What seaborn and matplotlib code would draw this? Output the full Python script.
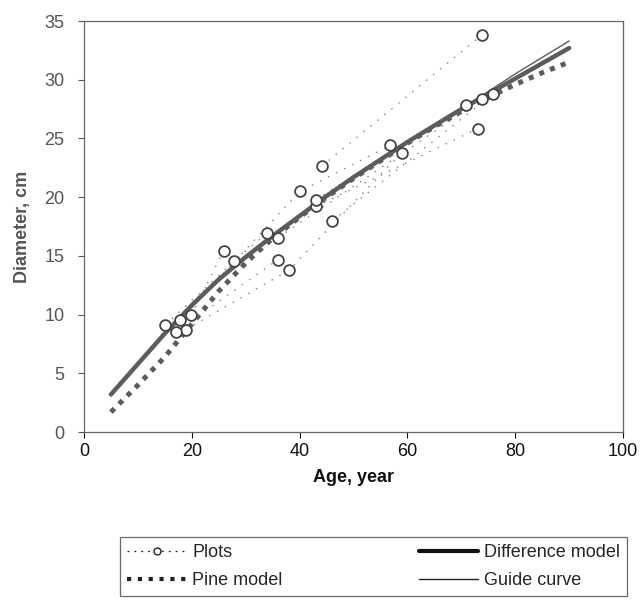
import matplotlib
matplotlib.use("Agg")
import matplotlib.pyplot as plt
import numpy as np
import pandas as pd
import seaborn as sns
from matplotlib.lines import Line2D

# Model curves: diameter (cm) by stand age (years)
age_grid = [5, 10, 15, 20, 25, 30, 35, 40, 45, 50, 55, 60, 65, 70, 75, 80, 85, 90]
difference_model = [3.2, 5.8, 8.4, 10.8, 13.0, 14.9, 16.7, 18.4, 20.1, 21.7, 23.2,
                     24.7, 26.1, 27.5, 28.8, 30.1, 31.4, 32.7]
guide_curve = [3.2, 5.8, 8.4, 10.8, 13.0, 14.9, 16.7, 18.4, 20.1, 21.7, 23.2,
               24.7, 26.1, 27.5, 29.0, 30.5, 31.9, 33.3]
pine_model = [1.7, 4.0, 6.4, 9.2, 12.0, 14.4, 16.5, 18.3, 20.0, 21.6, 23.1,
              24.6, 26.0, 27.3, 28.5, 29.6, 30.6, 31.5]

# Remeasured sample plots: plot id, age at measurement, mean diameter
plot_id = [1, 1, 1, 2, 2, 2, 3, 3, 4, 4, 5, 5, 6, 6, 7, 7, 8, 8, 8, 9, 9, 10, 10]
plot_age = [17.9, 40.0, 56.8, 18.9, 38.0, 58.9, 19.9, 25.9, 44.1, 73.8, 43.0, 73.0,
            43.0, 70.9, 46.1, 75.8, 15.1, 27.9, 34.0, 17.0, 36.0, 36.0, 73.8]
plot_diameter = [9.55, 20.49, 24.41, 8.72, 13.78, 23.78, 9.94, 15.43, 22.64, 33.81,
                 19.21, 25.83, 19.78, 27.82, 17.99, 28.76, 9.12, 14.58, 16.97,
                 8.53, 14.69, 16.56, 28.33]

plots = pd.DataFrame({"plot": plot_id, "age": plot_age, "diameter": plot_diameter})

sns.set_style("ticks")
plt.rcParams["font.family"] = ["Liberation Sans", "DejaVu Sans"]

fig = plt.figure(figsize=(6.43, 6.06), dpi=100)
ax = fig.add_axes([0.1306, 0.287, 0.8384, 0.6783])

line_grey = "#5c5c5c"

# plot trajectories (dotted) under the model curves
sns.lineplot(data=plots, x="age", y="diameter", units="plot", estimator=None,
             sort=False, color="#808080", linewidth=0.9,
             linestyle=(0, (1.2, 6)), ax=ax, zorder=1, legend=False)

sns.lineplot(x=age_grid, y=guide_curve, color=line_grey, linewidth=1.0, ax=ax, zorder=2)
sns.lineplot(x=age_grid, y=pine_model, color=line_grey, linewidth=3.6,
             linestyle=(0, (1.0, 1.3)), ax=ax, zorder=3)
sns.lineplot(x=age_grid, y=difference_model, color=line_grey, linewidth=3.2, ax=ax, zorder=4)

# plot measurements on top
sns.scatterplot(data=plots, x="age", y="diameter", marker="o", s=60,
                facecolor="white", edgecolor="#444444", linewidth=1.3,
                ax=ax, zorder=5, legend=False)

ax.set_xlim(0, 100)
ax.set_ylim(0, 35)
ax.set_xticks([0, 20, 40, 60, 80, 100])
ax.set_yticks([0, 5, 10, 15, 20, 25, 30, 35])
ax.tick_params(axis="both", direction="out", length=4, width=0.8, labelsize=13)
ax.tick_params(axis="x", colors="#111111", pad=4)
ax.tick_params(axis="y", colors="#555555", pad=10)
for sp in ax.spines.values():
    sp.set_visible(True)
    sp.set_color("#666666")
    sp.set_linewidth(0.9)

ax.set_xlabel("Age, year", fontsize=13, fontweight="bold", color="#111111", labelpad=6)
ax.set_ylabel("Diameter, cm", fontsize=13, fontweight="bold", color="#555555", labelpad=10)

handles = [
    Line2D([], [], color="#222222", linewidth=0.9, linestyle=(0, (1.5, 4)),
           marker="o", markersize=5, markerfacecolor="white", markeredgecolor="#222222"),
    Line2D([], [], color="#222222", linewidth=3.0, linestyle=(0, (1.0, 1.6))),
    Line2D([], [], color="#111111", linewidth=3.0),
    Line2D([], [], color="#222222", linewidth=1.0),
]
labels = ["Plots", "Pine model", "Difference model", "Guide curve"]
leg = fig.legend(handles, labels, ncol=2, loc="upper left", mode="expand",
                 bbox_to_anchor=(0.187, -0.03, 0.788, 0.144), borderaxespad=0,
                 fontsize=13, frameon=True, fancybox=False, edgecolor="#444444",
                 handlelength=3.3, handletextpad=0.3, borderpad=0.4,
                 labelspacing=0.6, columnspacing=1.0)
leg.get_frame().set_linewidth(0.9)

fig.savefig("out.png", dpi=100)
